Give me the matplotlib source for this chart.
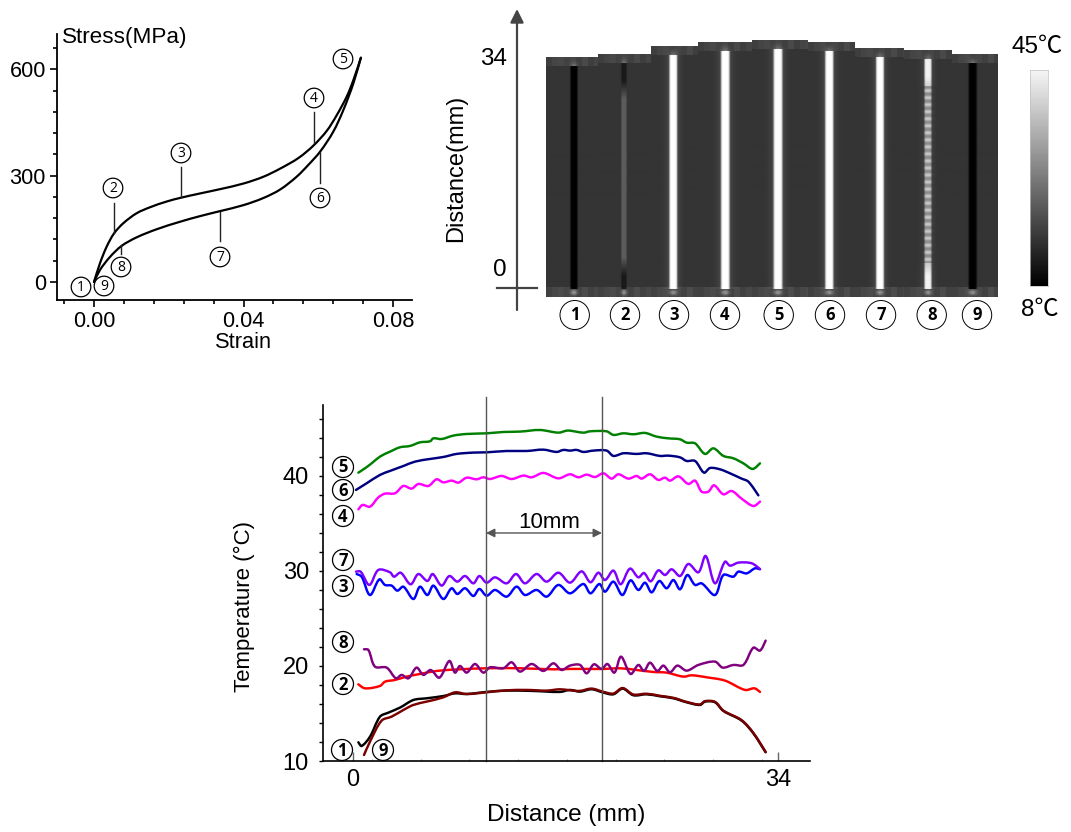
import numpy as np
import matplotlib
matplotlib.use("Agg")
import matplotlib.pyplot as plt
from matplotlib.patches import Ellipse, PathPatch
from matplotlib.path import Path

plt.rcParams['font.family'] = ['Liberation Sans', 'Noto Sans CJK SC', 'DejaVu Sans']

# ---------- stress-strain loop ----------
load_strain = [0, .0016, .0034, .00535, .00785, .0114, .0150, .0194, .0233, .0284, .0337, .0400, .0453, .0498, .0547, .0587, .0623, .0649, .0676, .0694, .0714]
load_stress = [0, 53, 100, 137, 166, 194, 211, 227, 238, 250, 262, 278, 297, 320, 350, 385, 427, 470, 523, 570, 633]
unload_strain = [0, .0016, .0043, .0074, .0114, .0168, .0230, .0284, .0337, .0400, .0453, .0498, .0542, .0573, .0605, .0640, .0667, .0694, .0714]
unload_stress = [0, 34, 71, 102, 126, 149, 170, 186, 200, 217, 237, 261, 297, 330, 368, 424, 485, 561, 633]

# ---------- temperature profiles: distance (mm), temperature (C) ----------
d5 = [.43,.96,1.49,2.16,2.96,3.76,4.56,5.36,6.16,6.43,7.09,8.03,9.09,10.69,12.03,13.36,14.96,16.43,17.09,17.36,18.43,18.96,20.29,20.83,21.63,22.43,23.36,24.29,25.23,26.16,26.69,27.36,28.16,28.83,29.63,30.43,31.23,31.97,32.56]
t5 = [40.35,40.81,41.33,42.04,42.56,43.02,43.16,43.54,43.65,43.96,43.89,44.25,44.42,44.49,44.63,44.67,44.84,44.56,44.77,44.77,44.56,44.70,44.70,44.32,44.49,44.39,44.53,44.14,43.96,43.86,43.51,43.44,42.32,42.91,42.11,41.86,41.33,40.74,41.33]
d6 = [.24,1.09,2.16,2.96,4.03,4.96,6.16,7.23,8.29,9.63,10.69,12.29,13.89,15.23,16.29,16.83,17.36,17.89,18.43,19.23,20.29,20.83,21.63,22.69,23.49,24.56,25.23,26.16,26.69,27.36,28.08,28.56,29.36,30.16,31.09,31.63,32.43]
t6 = [38.53,39.23,40.11,40.53,41.05,41.51,41.79,42.0,42.32,42.46,42.49,42.63,42.63,42.77,42.53,42.74,42.67,42.74,42.53,42.67,42.67,42.11,42.39,42.32,42.39,42.11,42.14,41.96,41.58,41.58,40.35,40.84,40.70,40.28,39.72,39.40,37.96]
d4 = [.43,.77,1.36,2.03,2.56,3.36,4.03,4.69,5.23,6.03,6.69,7.23,7.89,8.43,9.09,9.89,10.43,10.96,11.89,12.69,13.63,14.29,15.23,16.43,17.36,18.03,18.69,19.36,20.03,20.69,21.23,22.03,22.69,23.09,23.76,24.43,24.96,25.36,26.03,26.83,27.36,27.89,28.43,28.88,29.63,30.29,31.09,32.03,32.56]
t4 = [36.49,36.95,36.77,37.75,38.14,38.18,38.95,38.67,39.16,38.95,39.65,39.33,39.51,39.30,39.82,39.65,39.86,39.68,40.0,39.68,40.04,39.86,40.32,39.75,40.18,39.86,40.14,39.89,40.28,39.72,40.18,39.72,40.0,39.72,40.18,39.58,39.82,39.51,39.96,39.16,39.51,38.35,38.35,39.02,38.07,38.42,37.61,36.84,37.30]
d7 = [.24,.61,1.31,2.03,2.96,3.28,3.81,4.61,5.23,5.95,6.37,7.09,7.71,8.35,8.96,9.63,10.11,10.69,11.36,12.29,13.04,13.76,14.69,15.49,16.43,17.36,18.29,19.0,19.63,20.16,20.83,21.41,22.16,22.83,23.28,23.81,24.43,24.96,25.49,26.16,26.83,27.63,28.21,28.96,29.76,30.16,30.83,31.89,32.56]
t7 = [29.93,29.93,28.53,30.11,29.86,29.40,29.82,28.60,29.68,28.95,29.68,28.46,29.47,28.88,29.47,28.70,29.47,28.77,29.33,28.70,29.68,28.70,29.68,28.88,29.82,28.77,29.96,28.81,29.82,29.05,30.04,28.60,30.25,29.33,29.79,28.91,30.07,29.58,30.18,29.47,30.74,29.86,31.58,28.70,30.98,30.56,30.88,30.81,30.21]
d3 = [.29,.69,1.36,2.11,2.56,3.09,3.55,4.03,4.83,5.36,5.95,6.43,7.23,7.89,8.35,8.96,9.63,10.11,10.69,11.36,12.29,13.09,13.76,14.69,15.49,16.43,17.36,18.43,19.0,19.71,20.16,20.83,21.55,22.21,22.83,23.36,23.89,24.51,25.09,25.63,26.16,26.75,27.36,27.89,28.96,29.63,30.43,30.83,31.49,32.16,32.56]
t3 = [29.68,29.40,27.47,29.12,28.53,28.46,27.93,28.35,27.05,28.35,27.47,28.46,27.05,28.18,27.58,28.18,27.37,28.11,27.40,28.0,27.30,28.35,27.47,28.0,27.30,28.53,27.65,28.63,27.65,28.63,27.82,28.88,27.47,29.02,28.0,28.77,27.75,28.95,28.18,29.05,28.07,29.58,28.53,28.70,27.47,29.58,29.40,29.93,29.75,30.28,30.18]
d8 = [.88,1.23,1.76,2.69,3.44,3.89,4.43,5.09,5.63,6.21,6.91,7.71,8.16,8.56,9.09,9.76,10.43,10.96,12.03,12.69,13.36,14.29,15.23,16.03,16.69,17.36,18.16,18.69,19.28,19.89,20.35,20.91,21.44,22.21,22.83,23.28,23.76,24.35,24.83,25.36,25.95,26.69,27.63,28.96,29.57,30.43,31.23,32.03,32.56,33.01]
t8 = [21.76,21.69,19.93,19.83,18.70,19.06,18.70,19.83,19.06,19.58,18.77,20.53,19.30,20.0,19.30,20.21,19.30,19.86,19.76,20.39,19.41,20.21,19.48,20.28,19.58,20.04,20.11,19.23,20.18,19.69,20.21,19.30,20.98,19.16,20.11,19.48,20.35,19.48,20.04,19.34,20.04,19.51,20.11,20.46,19.83,20.11,20.11,21.93,21.62,22.67]
d2 = [.43,.96,2.16,2.56,3.36,4.29,5.36,6.69,8.56,10.69,13.36,16.03,17.36,18.69,20.03,21.36,22.69,24.03,25.09,26.43,27.09,28.29,29.76,31.36,32.11,32.56]
t2 = [18.07,17.65,17.9,18.35,18.53,18.88,19.16,19.48,19.65,19.76,19.76,19.65,19.69,19.69,19.69,19.76,19.58,19.37,19.30,18.88,19.02,18.81,18.46,17.48,17.65,17.27]
d1 = [.43,.69,1.36,2.16,2.83,3.76,4.83,5.89,7.23,8.16,9.09,10.69,12.29,14.43,16.56,17.36,18.16,19.09,20.03,20.83,21.57,22.43,23.49,24.56,25.63,26.69,27.76,28.16,28.96,29.63,31.09,32.03,33.01]
t1 = [11.97,11.58,12.56,14.67,15.09,15.62,16.42,16.6,16.84,17.12,17.05,17.27,17.41,17.37,17.27,17.48,17.3,17.55,17.2,17.02,17.62,16.92,17.02,16.81,16.6,16.18,15.9,16.25,16.18,15.27,14.25,12.91,10.92]
d9 = [.88,1.36,2.29,3.09,4.03,4.83,5.89,7.23,8.16,9.09,10.69,12.29,13.89,15.49,16.56,17.36,18.16,19.09,20.03,20.83,21.57,22.43,23.49,24.56,25.63,26.69,27.76,28.16,28.96,29.63,31.09,32.03,33.01]
t9 = [10.63,12.04,14.25,14.67,15.37,15.9,16.25,16.7,17.23,17.05,17.23,17.44,17.48,17.41,17.55,17.44,17.38,17.62,17.28,17.1,17.68,17.0,17.08,16.86,16.65,16.22,15.95,16.3,16.22,15.3,14.3,12.95,10.95]

series = [(d1, t1, '#000000'), (d9, t9, '#7a0000'), (d2, t2, '#ff0000'), (d8, t8, '#800080'),
          (d3, t3, '#0000ff'), (d7, t7, '#8000ff'), (d4, t4, '#ff00ff'), (d6, t6, '#000080'), (d5, t5, '#008000')]

# ---------- thermal image: one strip per specimen state ----------
strip_edges = [546, 598, 651, 698, 752, 808, 855, 904, 952, 998]
strip_top_mm = [34.2, 34.6, 35.85, 36.5, 36.7, 36.5, 35.5, 35.2, 34.6]
stripe_center = [574, 624, 673.3, 725.3, 778, 829.3, 880, 928, 972.7]
stripe_level = [0.0, 0.36, 1.0, 1.0, 1.0, 1.0, 1.0, 0.7, 0.0]
stripe_end_level = [0.0, 0.10, 1.0, 1.0, 1.0, 1.0, 1.0, 0.95, 0.0]
stripe_halfwidth = [3.7, 2.8, 4.0, 4.4, 4.5, 4.2, 4.0, 3.6, 4.2]
mottle_8 = [0.55, 0.55, 0.62, 0.74, 0.80, 0.74, 0.62]
band_mottle = [0.245, 0.27, 0.285, 0.26, 0.275, 0.25, 0.29]
image_bg = 0.205
image_labels = ['1', '2', '3', '4', '5', '6', '7', '8', '9']
image_label_x = [574.7, 625, 674, 725, 778.7, 830, 881, 931.7, 977]

W, H = 1071, 832
fig = plt.figure(figsize=(W / 100, H / 100), dpi=100, facecolor='white')


def px_axes(x0, y0, x1, y1, **kw):
    return fig.add_axes([x0 / W, 1 - y1 / H, (x1 - x0) / W, (y1 - y0) / H], **kw)


def smooth_curve(ax, xs, ys, color, lw):
    """Stroke a smooth Bezier curve that passes through exactly the given data points."""
    P = np.column_stack([xs, ys]).astype(float)
    D = ax.transData.transform(P)
    L = np.maximum(np.hypot(*np.diff(D, axis=0).T), 1e-6)
    verts, codes = [P[0]], [Path.MOVETO]
    n = len(P)
    for i in range(n - 1):
        pm = P[max(i - 1, 0)]
        pp = P[min(i + 2, n - 1)]
        lm = L[i - 1] if i > 0 else L[i]
        lp = L[i + 1] if i < n - 2 else L[i]
        c1 = P[i] + (P[i + 1] - pm) * L[i] / (lm + L[i]) / 3
        c2 = P[i + 1] - (pp - P[i]) * L[i] / (L[i] + lp) / 3
        verts += [c1, c2, P[i + 1]]
        codes += [Path.CURVE4] * 3
    ax.add_patch(PathPatch(Path(verts, codes), fill=False, edgecolor=color, lw=lw,
                           capstyle='round', joinstyle='round'))


# ---------- panel A ----------
a = px_axes(57, 34, 411.7, 299.5)
a.set_xlim(-0.0099, 0.0850)
a.set_ylim(-49.4, 700)
smooth_curve(a, load_strain, load_stress, 'black', 1.6)
smooth_curve(a, unload_strain, unload_stress, 'black', 1.6)
a.spines[['top', 'right']].set_visible(False)
a.spines[['left', 'bottom']].set_linewidth(1.3)
a.set_xticks([0, 0.04, 0.08], ['0.00', '0.04', '0.08'])
a.set_yticks([0, 300, 600], ['0', '300', '600'])
a.set_xticks(np.arange(-0.008, 0.081, 0.008), minor=True)
a.set_yticks(np.arange(0, 661, 60), minor=True)
a.tick_params(which='major', length=5, width=1.2, labelsize=15.7, pad=3)
a.tick_params(which='minor', length=3, width=1.2)

# ---------- panel B: thermal image ----------
b = px_axes(546, 40, 998, 297)
mm_per_px = 34 / (288 - 59)
y_of = lambda py: (288 - py) * mm_per_px
b.axis('off')
for i in range(9):
    x0, x1 = strip_edges[i], strip_edges[i + 1]
    top = strip_top_mm[i]
    nrow = int(round((top - y_of(297)) / mm_per_px))
    ncol = x1 - x0
    xs = np.arange(ncol) + x0 + 0.5
    arr = np.full((nrow, ncol), image_bg)
    band = np.resize(np.repeat(band_mottle, 6), ncol)
    arr[:9, :] = band
    arr[-10:, :] = band + 0.01
    u = (xs - stripe_center[i]) / stripe_halfwidth[i]
    prof = np.exp(-u ** 6)
    glow = 0.18 * np.exp(-(u / 1.6) ** 2) if stripe_level[i] > 0.5 else 0 * u
    plume = np.exp(-(u / 0.9) ** 2)
    rows = np.arange(nrow)
    lev = np.interp(rows, [9, 26, 44, nrow - 40, nrow - 22, nrow - 8],
                    [stripe_end_level[i], stripe_end_level[i], stripe_level[i],
                     stripe_level[i], stripe_end_level[i], stripe_end_level[i]])
    if i == 7:
        lev[36:nrow - 34] = np.resize(mottle_8, nrow - 70)
    for r in range(nrow):
        if 9 <= r < nrow - 8:
            arr[r] = arr[r] + (1.0 - arr[r]) * glow * (lev[r] - image_bg)
            arr[r] = arr[r] * (1 - prof) + lev[r] * prof
        elif r < 9:
            arr[r] = arr[r] + 0.22 * plume * (r / 9) ** 2
        else:
            arr[r] = arr[r] + 0.30 * plume * np.exp(-((r - (nrow - 5)) / 2.5) ** 2)
    b.imshow(arr, cmap='gray', vmin=0, vmax=1, aspect='auto', interpolation='bilinear',
             extent=(x0, x1, y_of(297), top), zorder=1)
b.set_xlim(546, 998)
b.set_ylim(y_of(297), y_of(40))

# colour bar
cb = px_axes(1030, 70, 1048, 286)
cb.imshow(np.linspace(45, 8, 216)[:, None], cmap='gray', vmin=8, vmax=46.5, aspect='auto')
cb.set_xticks([])
cb.set_yticks([])
for s in cb.spines.values():
    s.set_color('#c0c0c0')
    s.set_linewidth(0.5)

# ---------- panel C ----------
c = px_axes(323, 405, 810, 761)
c.set_xlim(-2.4, 36.56)
c.set_ylim(10, 47.47)
for d, t, col in series:
    smooth_curve(c, d, t, col, 1.75)
c.spines[['top', 'right']].set_visible(False)
c.spines[['left', 'bottom']].set_linewidth(1.2)
c.set_yticks([10, 20, 30, 40], ['10', '20', '30', '40'])
c.set_yticks(np.arange(10, 47, 2), minor=True)
c.set_xticks([0, 34], ['0', '34'])
c.set_xticks([1.5, 5.4, 9.3, 13.2, 17.1, 21, 24.9, 28.8, 32.7], minor=True)
c.tick_params(axis='y', which='both', length=3.2, width=1, labelsize=17, pad=7)
c.tick_params(axis='x', which='major', direction='in', length=6.5, width=1, color='#666666', labelsize=17, pad=6)
c.tick_params(axis='x', which='minor', direction='in', length=1.5, width=0.8, color='#999999')
c.axvline(10.64, ymin=0, ymax=1.022, color='#555555', lw=1, clip_on=False)
c.axvline(19.92, ymin=0, ymax=1.022, color='#555555', lw=1, clip_on=False)
c.annotate('', xy=(10.64, 34), xytext=(19.92, 34),
           arrowprops=dict(arrowstyle='<|-|>', color='#555555', lw=1, shrinkA=0, shrinkB=0, mutation_scale=13))

# ---------- overlay in figure pixels ----------
o = fig.add_axes([0, 0, 1, 1], zorder=10)
o.set_xlim(0, W)
o.set_ylim(H, 0)
o.axis('off')
o.patch.set_alpha(0)


def circled(x, y, s, r=10, fs=10, weight='normal', ry=None, lw=0.9):
    o.add_patch(Ellipse((x, y), 2 * r, 2 * (ry or r), fc='white', ec='black', lw=lw))
    o.text(x, y + 0.5, s, ha='center', va='center', fontsize=fs, weight=weight, family=['Open Sans', 'DejaVu Sans'])


for x, y, s in [(81, 287, '1'), (104, 286, '9'), (121, 267, '8'), (113, 188, '2'), (181, 153, '3'),
                (220, 257, '7'), (314, 98, '4'), (320, 198, '6'), (343, 59, '5')]:
    circled(x, y, s, r=9.8, fs=10)
for x, y0, y1 in [(114, 203, 233), (181, 167, 197), (314, 112, 143), (320, 152, 183), (220, 212, 241), (121, 245, 254)]:
    o.plot([x, x], [y0, y1], color='#222222', lw=1)
o.text(62, 37, 'Stress(MPa)', fontsize=16.2, ha='left', va='center')
o.text(243, 343, 'Strain', fontsize=15.7, ha='center', va='center')

for x, s in zip(image_label_x, image_labels):
    circled(x, 315, s, r=14.7, ry=14.5, fs=12, weight='bold', lw=0.7)

o.annotate('', xy=(517, 9), xytext=(517, 310),
           arrowprops=dict(arrowstyle='-|>', color='#444444', lw=1.6, shrinkA=0, shrinkB=0, mutation_scale=20))
o.plot([497, 537], [288, 288], color='#444444', lw=1.6)
o.text(494, 59, '34', fontsize=17.5, ha='center', va='center')
o.text(500, 270, '0', fontsize=17.5, ha='center', va='center')
o.text(456, 168, 'Distance(mm)', fontsize=17, rotation=90, ha='center', va='center')
o.text(1037, 47, '45℃', fontsize=17.5, ha='center', va='center')
o.text(1040, 310, '8℃', fontsize=17.5, ha='center', va='center')

for x, y, s in [(343, 467, '5'), (343, 490, '6'), (343, 516, '4'), (343, 560, '7'), (343, 586, '3'),
                (343, 642, '8'), (343, 684, '2'), (342, 750, '1'), (383, 750, '9')]:
    circled(x, y, s, r=10.5, fs=12, weight='bold')
o.text(549, 523, '10mm', fontsize=16, ha='center', va='center')
o.text(244, 606, 'Temperature (°C)', fontsize=16, rotation=90, ha='center', va='center')
o.text(566, 815, 'Distance (mm)', fontsize=17.6, ha='center', va='center')

fig.savefig('out.png', dpi=100)
